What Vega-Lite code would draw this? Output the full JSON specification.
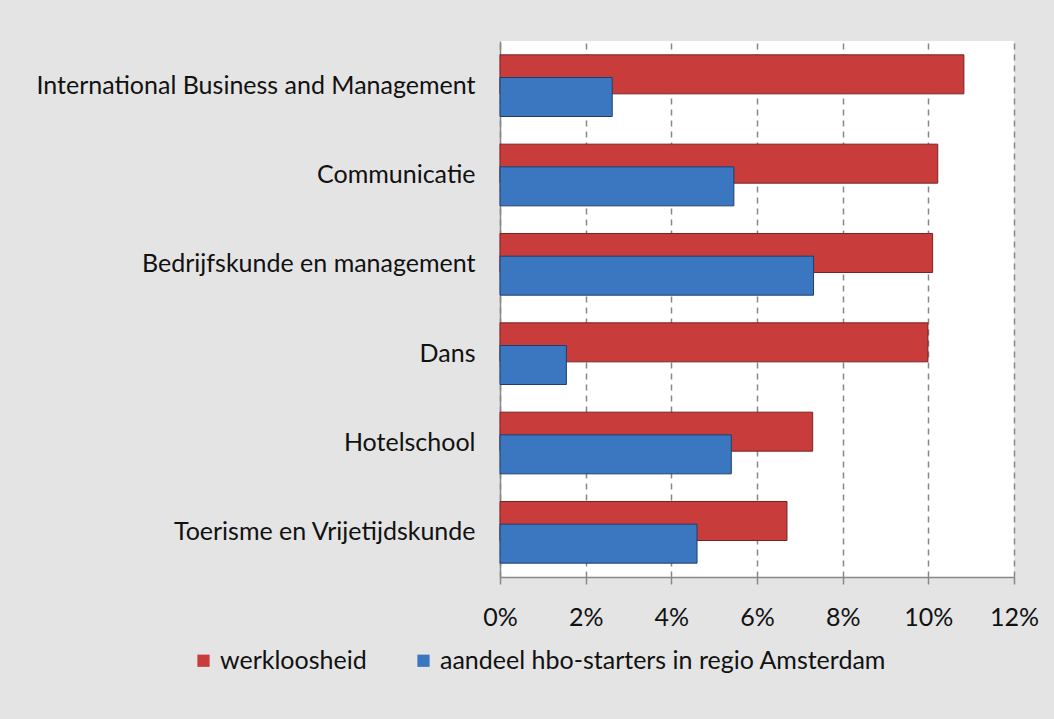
{
  "$schema": "https://vega.github.io/schema/vega-lite/v6.json",
  "autosize": {"type": "none"},
  "padding": {"left": 500, "top": 41, "right": 40, "bottom": 142},
  "width": 514,
  "height": 536,
  "background": "#e4e4e4",
  "config": {
    "font": "Lato",
    "view": {"fill": "white", "stroke": null}
  },
  "data": {
    "values": [
      {"category": "International Business and Management", "series": "werkloosheid", "value": 0.1083},
      {"category": "Communicatie", "series": "werkloosheid", "value": 0.1022},
      {"category": "Bedrijfskunde en management", "series": "werkloosheid", "value": 0.1010},
      {"category": "Dans", "series": "werkloosheid", "value": 0.0999},
      {"category": "Hotelschool", "series": "werkloosheid", "value": 0.0730},
      {"category": "Toerisme en Vrijetijdskunde", "series": "werkloosheid", "value": 0.0670},
      {"category": "International Business and Management", "series": "aandeel hbo-starters in regio Amsterdam", "value": 0.0262},
      {"category": "Communicatie", "series": "aandeel hbo-starters in regio Amsterdam", "value": 0.0546},
      {"category": "Bedrijfskunde en management", "series": "aandeel hbo-starters in regio Amsterdam", "value": 0.0732},
      {"category": "Dans", "series": "aandeel hbo-starters in regio Amsterdam", "value": 0.0155},
      {"category": "Hotelschool", "series": "aandeel hbo-starters in regio Amsterdam", "value": 0.0540},
      {"category": "Toerisme en Vrijetijdskunde", "series": "aandeel hbo-starters in regio Amsterdam", "value": 0.0460}
    ]
  },
  "mark": {"type": "bar", "height": 39, "strokeWidth": 1},
  "encoding": {
    "y": {
      "field": "category",
      "type": "nominal",
      "sort": null,
      "scale": {"paddingInner": 0, "paddingOuter": 0},
      "axis": {
        "title": null,
        "ticks": false,
        "labelPadding": 25,
        "labelFontSize": 25,
        "labelColor": "#111",
        "labelLimit": 0,
        "domainColor": "#888",
        "domainWidth": 1.5
      }
    },
    "yOffset": {
      "field": "series",
      "type": "nominal",
      "sort": ["werkloosheid", "aandeel hbo-starters in regio Amsterdam"],
      "scale": {"paddingInner": 0, "paddingOuter": 0.97}
    },
    "x": {
      "field": "value",
      "type": "quantitative",
      "scale": {"domain": [0, 0.12], "nice": false},
      "axis": {
        "title": null,
        "format": ".0%",
        "values": [0, 0.02, 0.04, 0.06, 0.08, 0.1, 0.12],
        "labelFlush": false,
        "grid": true,
        "gridColor": "#888",
        "gridDash": [6, 5],
        "gridWidth": 1.5,
        "domainColor": "#888",
        "domainWidth": 1.5,
        "tickColor": "#888",
        "tickSize": 7,
        "tickWidth": 1.5,
        "labelPadding": 21,
        "labelFontSize": 25,
        "labelColor": "#111"
      }
    },
    "color": {
      "field": "series",
      "type": "nominal",
      "sort": ["werkloosheid", "aandeel hbo-starters in regio Amsterdam"],
      "scale": {
        "domain": ["werkloosheid", "aandeel hbo-starters in regio Amsterdam"],
        "range": ["#c93c3c", "#3b77c1"]
      },
      "legend": {
        "title": null,
        "orient": "none",
        "legendX": -309,
        "legendY": 607,
        "direction": "horizontal",
        "symbolType": "square",
        "symbolSize": 150,
        "symbolStrokeWidth": 0,
        "symbolOpacity": 1,
        "labelFontSize": 25,
        "labelColor": "#111",
        "labelOffset": 4,
        "columnPadding": 44,
        "labelLimit": 0
      }
    },
    "stroke": {
      "field": "series",
      "type": "nominal",
      "scale": {
        "domain": ["werkloosheid", "aandeel hbo-starters in regio Amsterdam"],
        "range": ["#7a2222", "#1f3f6a"]
      },
      "legend": null
    }
  }
}
